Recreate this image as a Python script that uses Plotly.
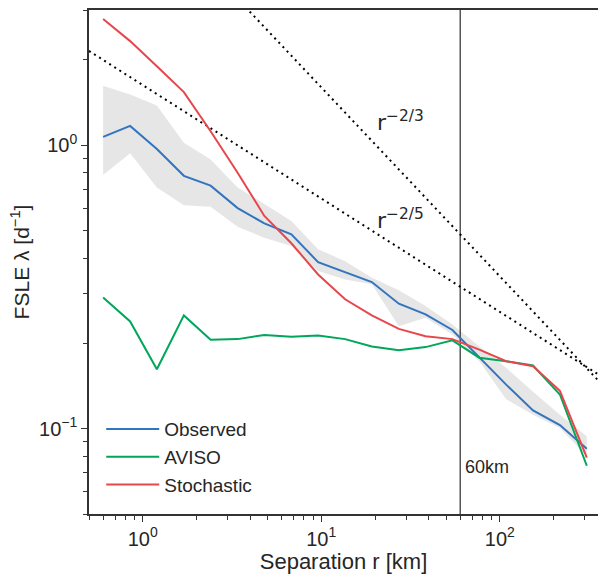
import math
import plotly.graph_objects as go

# ---------------- data ----------------
sep_km = [0.6, 0.85, 1.2, 1.7, 2.4, 3.4, 4.8, 6.8, 9.6, 13.6, 19.2, 27.2,
          38.4, 54.3, 76.8, 108.6, 153.6, 217.2, 307.2]

observed = [1.07, 1.17, 0.97, 0.78, 0.72, 0.60, 0.53, 0.485, 0.387, 0.357,
            0.329, 0.276, 0.253, 0.223, 0.178, 0.143, 0.116, 0.103, 0.085]
observed_hi = [1.62, 1.51, 1.38, 1.02, 0.89, 0.71, 0.62, 0.54, 0.43, 0.39,
               0.341, 0.308, 0.271, 0.233, 0.195, 0.164, 0.135, 0.112, 0.094]
observed_lo = [0.785, 0.937, 0.709, 0.614, 0.607, 0.516, 0.472, 0.441, 0.360,
               0.336, 0.323, 0.230, 0.246, 0.215, 0.173, 0.127, 0.112, 0.1005, 0.080]

aviso = [0.290, 0.239, 0.162, 0.251, 0.206, 0.207, 0.214, 0.211, 0.213, 0.207,
         0.195, 0.189, 0.194, 0.205, 0.178, 0.173, 0.167, 0.132, 0.074]

stochastic = [2.79, 2.33, 1.90, 1.54, 1.12, 0.80, 0.563, 0.451, 0.350, 0.286,
              0.251, 0.225, 0.212, 0.207, 0.190, 0.173, 0.166, 0.136, 0.079]

# reference power laws: (amplitude, exponent, label, label position r, label position lambda)
power_laws = [
    (7.43, -2 / 3, "r<sup>\u22122/3</sup>", 20.0, 1.216),
    (1.63, -2 / 5, "r<sup>\u22122/5</sup>", 20.0, 0.548),
]
r_span = [0.5, 355.0]
lam_span = [0.05, 3.0]

vline_km = 60
vline_label = "60km"
vline_label_pos = (62.0, 0.0734)

x_ticks = [1, 10, 100]
x_ticktext = ["10<sup>0</sup>", "10<sup>1</sup>", "10<sup>2</sup>"]
y_ticks = [0.1, 1]
y_ticktext = ["10<sup>\u22121</sup>", "10<sup>0</sup>"]
x_minor = [m * 10 ** e for e in (-1, 0, 1, 2) for m in range(2, 10)]
y_minor = [m * 10 ** e for e in (-2, -1, 0) for m in range(2, 10)]

# ---------------- style ----------------
C_OBS = "#3274bf"
C_AVISO = "#00a65a"
C_STOCH = "#e6474c"
C_BAND = "#e6e6e6"
TXT = "#262626"
FONT = "Liberation Sans, Arial, sans-serif"

fig = go.Figure()

# shaded spread of observed
fig.add_trace(go.Scatter(
    x=sep_km + sep_km[::-1], y=observed_hi + observed_lo[::-1],
    fill="toself", fillcolor=C_BAND, line=dict(width=0), mode="lines",
    hoverinfo="skip", showlegend=False))

# power-law guide lines
for amp, p, lab, lx, ly in power_laws:
    fig.add_trace(go.Scatter(
        x=r_span, y=[amp * r ** p for r in r_span], mode="lines",
        line=dict(color="black", width=2, dash="2px,4px"), showlegend=False,
        hoverinfo="skip"))
    fig.add_annotation(x=math.log10(lx), y=math.log10(ly), text=lab,
                       showarrow=False, xanchor="left", yanchor="middle",
                       font=dict(family="DejaVu Sans", size=22, color=TXT))

# vertical line at 60 km
fig.add_trace(go.Scatter(x=[vline_km, vline_km], y=lam_span, mode="lines",
                         line=dict(color="black", width=1), showlegend=False,
                         hoverinfo="skip"))
fig.add_annotation(x=math.log10(vline_label_pos[0]), y=math.log10(vline_label_pos[1]),
                   text=vline_label, showarrow=False, xanchor="left", yanchor="middle",
                   font=dict(family=FONT, size=18, color=TXT))

fig.add_trace(go.Scatter(x=sep_km, y=observed, mode="lines", name="Observed",
                         line=dict(color=C_OBS, width=2)))
fig.add_trace(go.Scatter(x=sep_km, y=aviso, mode="lines", name="AVISO",
                         line=dict(color=C_AVISO, width=2)))
fig.add_trace(go.Scatter(x=sep_km, y=stochastic, mode="lines", name="Stochastic",
                         line=dict(color=C_STOCH, width=2)))

axis_common = dict(showgrid=False, zeroline=False, showline=True, linecolor="#333333",
                   linewidth=1.5, ticks="outside", ticklen=6, tickwidth=1.2,
                   tickcolor="#333333", tickfont=dict(family=FONT, size=20, color=TXT))

fig.update_xaxes(type="log", range=[math.log10(r_span[0]), math.log10(r_span[1])],
                 tickvals=x_ticks, ticktext=x_ticktext, mirror=True,
                 minor=dict(tickvals=x_minor, ticks="outside", ticklen=4,
                            tickwidth=1, tickcolor="#333333"),
                 title=dict(text="Separation r [km]", font=dict(family=FONT, size=22, color=TXT),
                            standoff=5),
                 **axis_common)
fig.update_yaxes(type="log", range=[math.log10(lam_span[0]), math.log10(lam_span[1])],
                 tickvals=y_ticks, ticktext=y_ticktext,
                 minor=dict(tickvals=y_minor, ticks="outside", ticklen=4,
                            tickwidth=1, tickcolor="#333333"),
                 title=dict(text="FSLE \u03bb [d<sup>\u22121</sup>]",
                            font=dict(family=FONT, size=21, color=TXT), standoff=4),
                 **axis_common)

fig.update_layout(
    width=598, height=574,
    margin=dict(l=89, r=0, t=10, b=60),
    plot_bgcolor="white", paper_bgcolor="white",
    legend=dict(x=0.024, y=0.206, xanchor="left", yanchor="top",
                bgcolor="rgba(0,0,0,0)", itemwidth=53,
                font=dict(family=FONT, size=19, color=TXT)),
    showlegend=True,
)

fig.write_html("out.html")
